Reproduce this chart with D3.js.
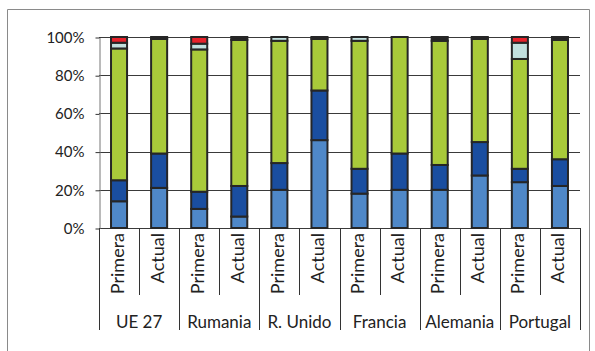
<!DOCTYPE html>
<html>
<head>
<meta charset="utf-8">
<script src="https://cdn.jsdelivr.net/npm/d3@7"></script>
<style>
  html, body { margin: 0; padding: 0; background: #fff; }
  svg { display: block; }
  text { font-family: Lato, "Noto Sans", sans-serif; fill: #222; }
</style>
</head>
<body>
<svg id="chart" width="595" height="351"></svg>
<script>
// ---- data ----
const groups = ["UE 27", "Rumania", "R. Unido", "Francia", "Alemania", "Portugal"];
const barLabels = ["Primera", "Actual"];
const tickValues = [0, 20, 40, 60, 80, 100];
// one value per bar: group order, Primera then Actual
const lightBlue = [14, 21, 10, 6, 20, 46, 18, 20, 20, 27.5, 24, 22];
const darkBlue  = [11, 18, 9, 16, 14, 26, 13, 19, 13, 17.5, 7, 14];
const green     = [69, 60, 74.5, 76.5, 64, 27, 67, 61, 65, 54, 57.5, 62.5];
const cyan      = [3, 0, 3, 0, 2, 0, 2, 0, 0, 0, 8.5, 0];
const red       = [3, 0, 3.5, 0, 0, 0, 0, 0, 0, 0, 3, 0];
const black     = [0, 1, 0, 1.5, 0, 1, 0, 0, 2, 1, 0, 1.5];

const seriesNames = ["lightBlue", "darkBlue", "green", "cyan", "red", "black"];
const seriesData = [lightBlue, darkBlue, green, cyan, red, black];
const colors = ["#4F88C8", "#1A4EA0", "#A9CA3A", "#C2E0DE", "#E8222B", "#252525"];

// ---- build table ----
const bars = [];
groups.forEach((g, gi) => barLabels.forEach((b, bi) => {
  const row = { id: gi * 2 + bi, group: g, label: b };
  seriesNames.forEach((s, si) => row[s] = seriesData[si][gi * 2 + bi]);
  bars.push(row);
}));

const svg = d3.select("#chart");

// outer frame
svg.append("path")
  .attr("d", "M7.5,352 L7.5,9.5 L589.5,9.5 L589.5,352")
  .attr("fill", "none").attr("stroke", "#8a8a8a").attr("stroke-width", 1);

const x = d3.scaleBand().domain(bars.map(d => d.id)).range([99, 580]);
const y = d3.scaleLinear().domain([0, 100]).range([228, 37]);
const barW = x.bandwidth() * 0.4;

// gridlines
svg.append("g").selectAll("line").data(tickValues).join("line")
  .attr("x1", 99).attr("x2", 580)
  .attr("y1", d => Math.round(y(d)) + 0.5).attr("y2", d => Math.round(y(d)) + 0.5)
  .attr("stroke", "#3a3a3a").attr("stroke-width", 1);

// y axis
const yAxis = svg.append("g").attr("transform", "translate(99.5,0.5)")
  .call(d3.axisLeft(y).tickValues(tickValues).tickFormat(d => d + "%")
    .tickSize(4).tickSizeOuter(0).tickPadding(11));
yAxis.select(".domain").attr("stroke", "#777");
yAxis.selectAll(".tick line").attr("stroke", "#333");
yAxis.selectAll(".tick text").style("font-size", "15px").attr("fill", "#222")
  .attr("font-family", "Lato, 'Noto Sans', sans-serif");

// stacked bars
const stack = d3.stack().keys(seriesNames)(bars);
stack.forEach((layer, li) => {
  svg.append("g").selectAll("rect")
    .data(layer.filter(d => d[1] - d[0] > 0))
    .join("rect")
    .attr("x", d => x(d.data.id) + (x.bandwidth() - barW) / 2)
    .attr("width", barW)
    .attr("y", d => y(d[1]))
    .attr("height", d => y(d[0]) - y(d[1]))
    .attr("fill", colors[li])
    .attr("stroke", "#262626")
    .attr("stroke-width", 2);
});

// category separators below axis
const boundaries = d3.range(0, bars.length + 1);
svg.append("g").selectAll("line").data(boundaries).join("line")
  .attr("x1", i => Math.round(i < bars.length ? x(i) : x.range()[1]) + 0.5)
  .attr("x2", i => Math.round(i < bars.length ? x(i) : x.range()[1]) + 0.5)
  .attr("y1", 228)
  .attr("y2", i => i % 2 === 0 ? 330 : 295)
  .attr("stroke", "#333").attr("stroke-width", 1);

// bar labels (rotated)
svg.append("g").selectAll("text").data(bars).join("text")
  .attr("transform", d => `translate(${x(d.id) + x.bandwidth() / 2 + 4.5},233) rotate(-90)`)
  .attr("text-anchor", "end")
  .style("font-size", "18px")
  .text(d => d.label);

// group labels
svg.append("g").selectAll("text").data(groups).join("text")
  .attr("x", (g, gi) => x(gi * 2) + x.bandwidth())
  .attr("y", 328)
  .attr("text-anchor", "middle")
  .style("font-size", "17px")
  .text(d => d);
</script>
</body>
</html>
